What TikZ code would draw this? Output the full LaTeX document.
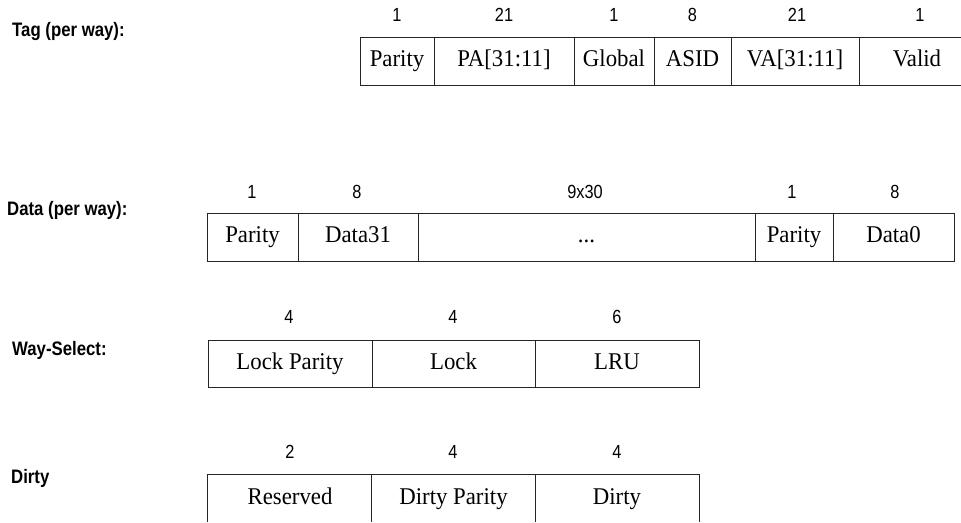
\documentclass[tikz,border=0pt]{standalone}
\usepackage{fontspec}
\setmainfont{Liberation Serif}
\setsansfont{Liberation Sans}
\newfontfamily\condsans[FakeStretch=0.86]{Liberation Sans}
\newfontfamily\condserif[FakeStretch=0.95]{Liberation Serif}
\begin{document}
\begin{tikzpicture}[x=1pt,y=-1pt,
  line/.style={draw=black!85, line width=0.9pt},
  celltext/.style={inner sep=0pt, text height=16.5pt, text depth=5.5pt, font=\condserif\fontsize{24}{27}\selectfont},
  cell/.style={line, celltext, minimum height=48pt},
  opencell/.style={celltext, minimum height=47pt},
  num/.style={inner sep=0pt, font=\condsans\fontsize{19}{21}\selectfont},
  rowlabel/.style={anchor=west, inner sep=0pt, text height=13.5pt, text depth=3.5pt, font=\condsans\bfseries\fontsize{19.5}{22}\selectfont}]
\useasboundingbox (0,0) rectangle (961,522);

% Row labels
\node[rowlabel] (ltag) at (12,31) {Tag (per way):};
\node[rowlabel] (ldata) at (7,210) {Data (per way):};
\node[rowlabel] (lway) at (12,350) {Way-Select:};
\node[rowlabel] (ldirty) at (11,478) {Dirty};

% Tag row
\node[cell, minimum width=74pt] (t1) at (397,61) {Parity};
\node[cell, minimum width=140pt] (t2) at (504,61) {PA[31:11]};
\node[cell, minimum width=80pt] (t3) at (614,61) {Global};
\node[cell, minimum width=77pt] (t4) at (692.5,61) {ASID};
\node[cell, minimum width=128pt] (t5) at (795,61) {VA[31:11]};
\node[cell, minimum width=116pt] (t6) at (917,61) {Valid};
\node[num] (nt1) at (397,15) {1};
\node[num] (nt2) at (504,15) {21};
\node[num] (nt3) at (614,15) {1};
\node[num] (nt4) at (692.5,15) {8};
\node[num] (nt5) at (797,15) {21};
\node[num] (nt6) at (920,15) {1};

% Data row
\node[cell, minimum width=91pt] (d1) at (252.5,237) {Parity};
\node[cell, minimum width=120pt] (d2) at (358,237) {Data31};
\node[cell, minimum width=337pt] (d3) at (586.5,237) {...};
\node[cell, minimum width=78pt] (d4) at (794,237) {Parity};
\node[cell, minimum width=121pt] (d5) at (893.5,237) {Data0};
\node[num] (nd1) at (252,192) {1};
\node[num] (nd2) at (357,192) {8};
\node[num] (nd3) at (585,192) {9x30};
\node[num] (nd4) at (792,192) {1};
\node[num] (nd5) at (895,192) {8};

% Way-Select row
\node[cell, minimum height=47pt, minimum width=164pt] (w1) at (290,363.5) {Lock Parity};
\node[cell, minimum height=47pt, minimum width=163pt] (w2) at (453.5,363.5) {Lock};
\node[cell, minimum height=47pt, minimum width=164pt] (w3) at (617,363.5) {LRU};
\node[num] (nw1) at (289,317) {4};
\node[num] (nw2) at (453,317) {4};
\node[num] (nw3) at (617,317) {6};

% Dirty row (cut off at the bottom)
\node[opencell, minimum width=164pt] (y1) at (290,498.5) {Reserved};
\node[opencell, minimum width=163pt] (y2) at (453.5,498.5) {Dirty Parity};
\node[opencell, minimum width=164pt] (y3) at (617,498.5) {Dirty};
\draw[line] (y1.south west) -- (y1.north west) -- (y3.north east) -- (y3.south east);
\draw[line] (y2.north west) -- (y2.south west);
\draw[line] (y2.north east) -- (y2.south east);
\node[num] (ny1) at (290,452) {2};
\node[num] (ny2) at (453,452) {4};
\node[num] (ny3) at (617,452) {4};
\end{tikzpicture}
\end{document}
